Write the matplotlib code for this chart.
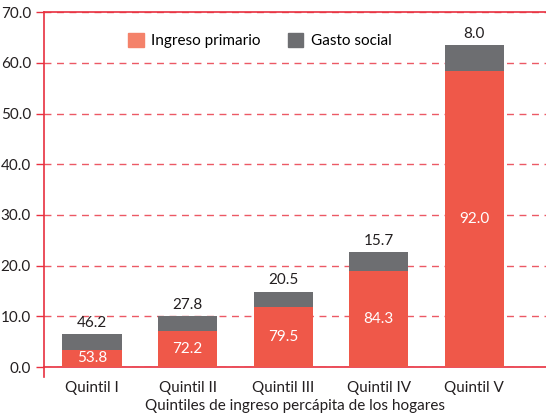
import matplotlib
matplotlib.use("Agg")
import matplotlib.pyplot as plt
from matplotlib.patches import Patch

plt.rcParams['font.family'] = ['Lato', 'DejaVu Sans']

# Datos
quintiles = ["Quintil I", "Quintil II", "Quintil III", "Quintil IV", "Quintil V"]
ingreso_primario = [3.4, 7.2, 11.8, 18.9, 58.4]
gasto_social = [3.1, 2.9, 3.1, 3.7, 5.1]
pct_primario = ["53.8", "72.2", "79.5", "84.3", "92.0"]
pct_social = ["46.2", "27.8", "20.5", "15.7", "8.0"]
yticks = [0, 10, 20, 30, 40, 50, 60, 70]

rojo = "#EF5849"
gris = "#6D6E71"
linea = "#E8303F"
texto = "#231F20"

fig = plt.figure(figsize=(5.46, 4.2), dpi=100)
ax = fig.add_axes([0.081, 0.126, 0.919, 0.845])

x = range(len(quintiles))
ax.bar(x, ingreso_primario, width=0.62, color=rojo, zorder=3)
ax.bar(x, gasto_social, width=0.62, bottom=ingreso_primario, color=gris, zorder=3)

for i in x:
    ax.text(i, ingreso_primario[i] / 2, pct_primario[i], ha="center", va="center",
            color="white", fontsize=11, zorder=4)
    ax.annotate(pct_social[i], (i, ingreso_primario[i] + gasto_social[i]),
                xytext=(0, 3), textcoords="offset points", ha="center", va="bottom",
                color=texto, fontsize=11)

ax.set_ylim(0, 70)
ax.set_xlim(-0.5, 4.75)
ax.set_yticks(yticks)
ax.set_yticklabels([f"{v:.1f}" for v in yticks], fontsize=11, color=texto)
ax.set_xticks(list(x))
ax.set_xticklabels(quintiles, fontsize=11, color=texto)
ax.tick_params(axis="x", length=0, pad=10)
ax.tick_params(axis="y", length=6, color=linea, width=1)

ax.yaxis.grid(True, color=linea, linestyle=(0, (5, 4)), linewidth=1, alpha=0.8, zorder=0)
ax.set_axisbelow(True)

for s in ["left", "bottom", "top"]:
    ax.spines[s].set_color(linea)
    ax.spines[s].set_linewidth(1.2)
ax.spines["right"].set_visible(False)
ax.spines["left"].set_bounds(-2, 70)

ax.set_xlabel("Quintiles de ingreso percápita de los hogares", fontsize=11,
              color=texto, labelpad=3)

handles = [Patch(color="#F4826A"), Patch(color=gris)]
ax.legend(handles, ["Ingreso primario", "Gasto social"], loc="upper left",
          bbox_to_anchor=(0.14, 0.98), ncol=2, frameon=False, fontsize=11,
          handlelength=1.0, handleheight=1.0, columnspacing=1.8, handletextpad=0.5)

fig.savefig("out.png", dpi=100)
